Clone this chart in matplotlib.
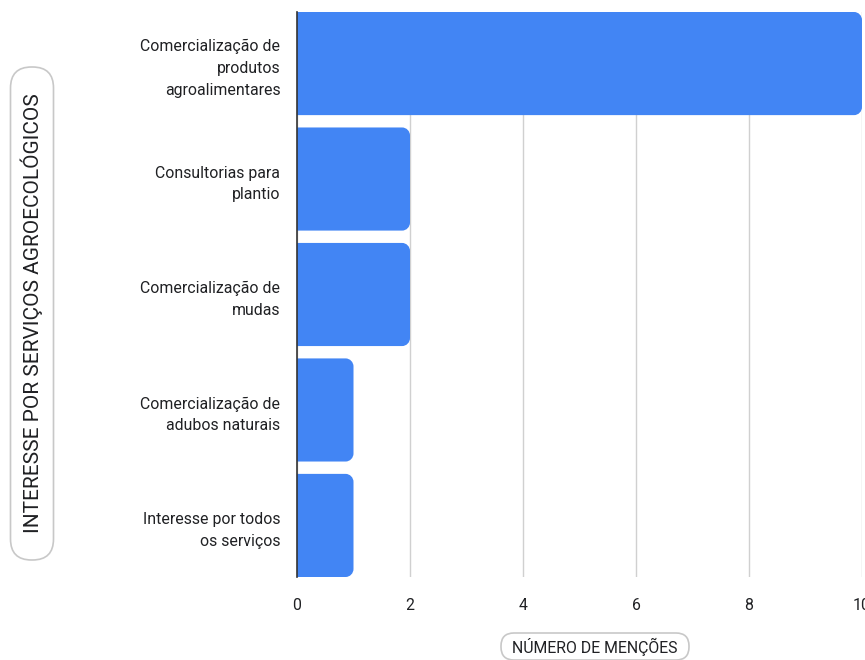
import matplotlib.pyplot as plt
from matplotlib.patches import FancyBboxPatch, PathPatch
from matplotlib.path import Path
from matplotlib.transforms import IdentityTransform

plt.rcParams['font.family'] = ['Roboto', 'DejaVu Sans']

# dados
categorias = [
    'Comercialização de\nprodutos\nagroalimentares',
    'Consultorias para\nplantio',
    'Comercialização de\nmudas',
    'Comercialização de\nadubos naturais',
    'Interesse por todos\nos serviços',
]
mencoes = [10, 2, 2, 1, 1]
xticks = [0, 2, 4, 6, 8, 10]

azul = '#4285F4'
texto = '#202124'
altura = 0.893
K = 0.5523  # constante de bezier para arco


def barra_arredondada(x, y, w, h, rx, ry):
    """Retangulo com cantos arredondados so do lado direito."""
    verts = [
        (x, y),
        (x + w - rx, y),
        (x + w - rx + K * rx, y), (x + w, y + ry - K * ry), (x + w, y + ry),
        (x + w, y + h - ry),
        (x + w, y + h - ry + K * ry), (x + w - rx + K * rx, y + h), (x + w - rx, y + h),
        (x, y + h),
        (x, y),
    ]
    codes = [Path.MOVETO, Path.LINETO,
             Path.CURVE4, Path.CURVE4, Path.CURVE4,
             Path.LINETO,
             Path.CURVE4, Path.CURVE4, Path.CURVE4,
             Path.LINETO, Path.CLOSEPOLY]
    return Path(verts, codes)


fig = plt.figure(figsize=(8.65, 6.6), dpi=100)
ax = fig.add_axes([297 / 865, 1 - 577 / 660, 565 / 865, 565 / 660])

posicoes = list(range(len(categorias)))
barras = ax.barh(posicoes, mencoes, height=altura, color='none')

for b in barras:
    p = barra_arredondada(b.get_x(), b.get_y(), b.get_width(), b.get_height(), 0.14, 0.07)
    ax.add_patch(PathPatch(p, fc=azul, ec='none', zorder=2))

ax.set_xlim(0, 10)
ax.set_ylim(len(categorias) - 1 + altura / 2, -altura / 2)
ax.set_xticks(xticks)
ax.set_yticks(posicoes)
ax.set_yticklabels(categorias, fontsize=11.4, color=texto, linespacing=1.58)
ax.tick_params(axis='x', labelsize=11.4, colors=texto, length=0, pad=15)
ax.tick_params(axis='y', length=0, pad=12)
ax.grid(axis='x', color='#d0d0d0', linewidth=1, zorder=0)
ax.set_axisbelow(True)
for s in ['top', 'right', 'bottom']:
    ax.spines[s].set_visible(False)
ax.spines['left'].set_color('#333333')
ax.spines['left'].set_linewidth(1.2)
ax.spines['left'].set_zorder(3)

# caixas arredondadas dos titulos dos eixos (coordenadas em pixels)
fig.patches.append(FancyBboxPatch((10.5, 660 - 560), 43, 493,
                                  boxstyle='round,pad=0,rounding_size=21',
                                  fc='white', ec='#c8c8c8', lw=1.2,
                                  transform=IdentityTransform(), figure=fig))
fig.patches.append(FancyBboxPatch((501, 660 - 660), 188, 27,
                                  boxstyle='round,pad=0,rounding_size=13',
                                  fc='white', ec='#c8c8c8', lw=1.2,
                                  transform=IdentityTransform(), figure=fig))

fig.text(32 / 865, 1 - 313 / 660, 'INTERESSE POR SERVIÇOS AGROECOLÓGICOS',
         rotation=90, ha='center', va='center', fontsize=15, color=texto)
fig.text(595 / 865, 1 - 647 / 660, 'NÚMERO DE MENÇÕES', ha='center', va='center',
         fontsize=11.4, color=texto)

fig.savefig('out.png', dpi=100)
